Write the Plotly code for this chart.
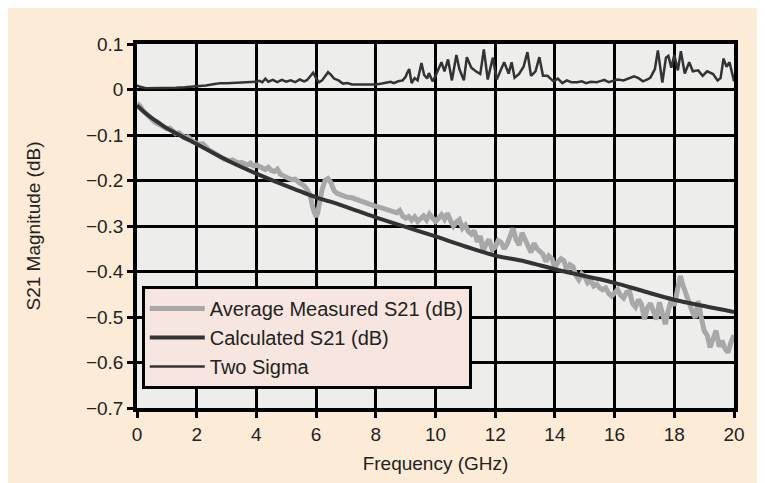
import plotly.graph_objects as go

# ---- data ----
calc_f = [0, 0.25, 0.5, 0.75, 1, 1.5, 2, 3, 4, 5, 6, 6.45, 7, 8, 9, 10, 11, 12, 13, 14, 15, 16, 17, 18, 19, 20]
calc_s21 = [-0.035, -0.05, -0.063, -0.074, -0.085, -0.103, -0.12, -0.155, -0.185, -0.212, -0.237, -0.246,
            -0.258, -0.281, -0.302, -0.323, -0.345, -0.365, -0.378, -0.395, -0.41, -0.425, -0.444,
            -0.462, -0.476, -0.489]

meas_f = [0.0, 0.1, 0.2, 0.3, 0.4, 0.5, 0.6, 0.7, 0.8, 0.9, 1.0, 1.1, 1.2, 1.3, 1.4, 1.5, 1.6, 1.7, 1.8, 1.9,
          2.0, 2.1, 2.2, 2.3, 2.4, 2.5, 2.6, 2.7, 2.8, 2.9, 3.0, 3.1, 3.2, 3.3, 3.4, 3.5, 3.6, 3.7, 3.8, 3.9,
          4.0, 4.1, 4.2, 4.3, 4.4, 4.5, 4.6, 4.7, 4.8, 4.9, 5.0, 5.1, 5.2, 5.3, 5.4, 5.5, 5.6, 5.7, 5.8, 5.9,
          5.95, 6.0, 6.05, 6.1, 6.2, 6.3, 6.4, 6.5, 6.6, 6.7, 6.8, 6.9, 7.0, 7.2, 7.4, 7.6, 7.8, 8.0, 8.2,
          8.4, 8.6, 8.7, 8.8, 8.9, 9.0, 9.1, 9.2, 9.3, 9.4, 9.5, 9.6, 9.7, 9.8, 9.9, 10.0, 10.1, 10.2, 10.3,
          10.4, 10.5, 10.6, 10.7, 10.8, 10.9, 11.0, 11.1, 11.2, 11.3, 11.4, 11.5, 11.6, 11.7, 11.8, 11.9,
          12.0, 12.1, 12.2, 12.3, 12.4, 12.5, 12.6, 12.7, 12.8, 12.9, 13.0, 13.1, 13.2, 13.3, 13.4, 13.5,
          13.6, 13.7, 13.8, 13.9, 14.0, 14.1, 14.2, 14.3, 14.4, 14.5, 14.6, 14.7, 14.8, 14.9, 15.0, 15.1,
          15.2, 15.3, 15.4, 15.5, 15.6, 15.7, 15.8, 15.9, 16.0, 16.1, 16.2, 16.3, 16.4, 16.5, 16.6, 16.7,
          16.8, 16.9, 17.0, 17.1, 17.2, 17.3, 17.4, 17.5, 17.6, 17.7, 17.8, 17.9, 18.0, 18.1, 18.2, 18.3,
          18.4, 18.5, 18.6, 18.7, 18.8, 18.9, 19.0, 19.1, 19.2, 19.3, 19.4, 19.5, 19.6, 19.7, 19.8, 19.9, 20.0]
meas_s21 = [-0.030, -0.036, -0.046, -0.054, -0.060, -0.066, -0.072, -0.075, -0.080, -0.084, -0.086, -0.085,
            -0.092, -0.097, -0.095, -0.101, -0.106, -0.104, -0.111, -0.115, -0.118, -0.120, -0.119, -0.127,
            -0.132, -0.136, -0.139, -0.145, -0.148, -0.152, -0.155, -0.157, -0.155, -0.160, -0.162, -0.160,
            -0.163, -0.166, -0.162, -0.168, -0.166, -0.170, -0.172, -0.176, -0.171, -0.178, -0.180, -0.175,
            -0.186, -0.190, -0.192, -0.196, -0.198, -0.197, -0.203, -0.207, -0.212, -0.220, -0.232, -0.262,
            -0.277, -0.280, -0.272, -0.252, -0.220, -0.200, -0.196, -0.205, -0.222, -0.228, -0.231, -0.234,
            -0.236, -0.238, -0.243, -0.247, -0.252, -0.257, -0.260, -0.264, -0.268, -0.271, -0.266, -0.278,
            -0.283, -0.279, -0.287, -0.280, -0.290, -0.282, -0.278, -0.287, -0.274, -0.282, -0.290, -0.283,
            -0.275, -0.285, -0.272, -0.288, -0.300, -0.291, -0.286, -0.305, -0.298, -0.312, -0.318, -0.310,
            -0.335, -0.322, -0.356, -0.338, -0.330, -0.352, -0.346, -0.332, -0.336, -0.350, -0.340, -0.322,
            -0.305, -0.330, -0.342, -0.315, -0.332, -0.344, -0.358, -0.338, -0.350, -0.355, -0.362, -0.378,
            -0.366, -0.372, -0.392, -0.380, -0.372, -0.376, -0.398, -0.385, -0.389, -0.408, -0.418, -0.405,
            -0.412, -0.425, -0.420, -0.432, -0.428, -0.436, -0.440, -0.436, -0.448, -0.454, -0.445, -0.440,
            -0.452, -0.458, -0.446, -0.444, -0.470, -0.478, -0.462, -0.472, -0.505, -0.480, -0.470, -0.492,
            -0.505, -0.468, -0.492, -0.516, -0.485, -0.462, -0.475, -0.440, -0.410, -0.432, -0.452, -0.468,
            -0.488, -0.502, -0.465, -0.500, -0.530, -0.540, -0.567, -0.548, -0.530, -0.565, -0.552, -0.570,
            -0.578, -0.555, -0.540]

sig_f = [0.0, 0.1, 0.3, 0.6, 1.0, 1.3, 1.6, 2.0, 2.3, 2.6, 2.8, 3.0, 3.3, 3.6, 3.8, 4.0, 4.1, 4.2, 4.3, 4.4,
         4.55, 4.7, 4.85, 5.0, 5.15, 5.3, 5.45, 5.6, 5.7, 5.8, 5.9, 6.0, 6.1, 6.2, 6.3, 6.4, 6.5, 6.6, 6.75,
         6.9, 7.05, 7.2, 7.4, 7.6, 7.8, 8.0, 8.2, 8.4, 8.5, 8.6, 8.75, 8.9, 9.0, 9.05, 9.12, 9.2, 9.3, 9.4,
         9.53, 9.62, 9.72, 9.78, 9.9, 10.0, 10.1, 10.2, 10.3, 10.42, 10.55, 10.7, 10.8, 10.95, 11.05, 11.2,
         11.35, 11.5, 11.62, 11.75, 11.92, 12.05, 12.3, 12.45, 12.55, 12.65, 12.8, 12.95, 13.08, 13.2, 13.35,
         13.48, 13.6, 13.75, 13.95, 14.1, 14.25, 14.4, 14.55, 14.75, 14.9, 15.05, 15.2, 15.4, 15.55, 15.65,
         15.8, 15.95, 16.1, 16.3, 16.45, 16.65, 16.8, 16.95, 17.1, 17.2, 17.35, 17.45, 17.6, 17.72, 17.8,
         17.9, 18.0, 18.12, 18.22, 18.35, 18.5, 18.62, 18.8, 18.95, 19.1, 19.3, 19.45, 19.55, 19.65, 19.75,
         19.85, 20.0]
sig_val = [0.009, 0.006, 0.003, 0.003, 0.003, 0.004, 0.005, 0.007, 0.009, 0.012, 0.014, 0.014, 0.015, 0.016,
           0.017, 0.017, 0.019, 0.016, 0.024, 0.017, 0.021, 0.016, 0.021, 0.017, 0.020, 0.016, 0.022, 0.018,
           0.021, 0.028, 0.037, 0.025, 0.016, 0.020, 0.030, 0.038, 0.032, 0.024, 0.020, 0.013, 0.014, 0.011,
           0.011, 0.011, 0.011, 0.011, 0.013, 0.015, 0.017, 0.014, 0.018, 0.020, 0.028, 0.036, 0.045, 0.014,
           0.025, 0.020, 0.058, 0.032, 0.024, 0.036, 0.018, 0.030, 0.046, 0.060, 0.040, 0.066, 0.020, 0.076,
           0.045, 0.020, 0.071, 0.048, 0.040, 0.034, 0.088, 0.022, 0.070, 0.022, 0.060, 0.035, 0.060, 0.026,
           0.034, 0.050, 0.082, 0.030, 0.040, 0.071, 0.030, 0.030, 0.018, 0.024, 0.014, 0.020, 0.016, 0.016,
           0.018, 0.014, 0.017, 0.016, 0.019, 0.021, 0.016, 0.019, 0.022, 0.020, 0.024, 0.029, 0.025, 0.018,
           0.022, 0.026, 0.045, 0.086, 0.015, 0.070, 0.074, 0.048, 0.076, 0.042, 0.084, 0.035, 0.060, 0.040,
           0.042, 0.030, 0.040, 0.034, 0.020, 0.025, 0.068, 0.050, 0.060, 0.018]

x_ticks = [0, 2, 4, 6, 8, 10, 12, 14, 16, 18, 20]
y_ticks = [0.1, 0, -0.1, -0.2, -0.3, -0.4, -0.5, -0.6, -0.7]
y_labels = ["0.1", "0", "\u22120.1", "\u22120.2", "\u22120.3", "\u22120.4", "\u22120.5", "\u22120.6", "\u22120.7"]

FONT = "Liberation Sans, Arial, sans-serif"
FS = 19

fig = go.Figure()
fig.add_trace(go.Scatter(x=meas_f, y=meas_s21, mode="lines", name="Average Measured S21 (dB)",
                         line=dict(color="#A8A8A8", width=5), legendgroup="a"))
fig.add_trace(go.Scatter(x=calc_f, y=calc_s21, mode="lines", name="Calculated S21 (dB)",
                         line=dict(color="#333333", width=4, shape="spline"), legendgroup="b"))
fig.add_trace(go.Scatter(x=sig_f, y=sig_val, mode="lines", name="Two Sigma",
                         line=dict(color="#333333", width=2.5), legendgroup="c"))

fig.update_layout(
    width=765, height=483,
    paper_bgcolor="#FCEBD7", plot_bgcolor="#EDEEEC",
    margin=dict(l=129, r=39, t=36, b=83),
    font=dict(family=FONT, size=FS, color="#222222"),
    showlegend=True,
    legend=dict(x=0.008, y=0.335, xanchor="left", yanchor="top",
                bgcolor="#F7E6DF", bordercolor="#000000", borderwidth=3,
                font=dict(family=FONT, size=20, color="#222222"),
                itemwidth=55, traceorder="grouped", tracegroupgap=0),
    xaxis=dict(range=[0, 20], tickvals=x_ticks, showgrid=True, gridcolor="#000000", gridwidth=3,
               showline=True, linecolor="#000000", linewidth=3.5, mirror=True,
               ticks="outside", ticklen=6, tickwidth=3, tickcolor="#000000", zeroline=False,
               title=dict(text="Frequency (GHz)", standoff=14, font=dict(size=FS))),
    yaxis=dict(range=[-0.7, 0.1], tickvals=y_ticks, ticktext=y_labels, showgrid=True,
               gridcolor="#000000", gridwidth=3,
               showline=True, linecolor="#000000", linewidth=3.5, mirror=True,
               ticks="outside", ticklen=6, tickwidth=3, tickcolor="#000000", zeroline=False,
               title=dict(text="S21 Magnitude (dB)", standoff=41, font=dict(size=FS))),
)

fig.write_html("out.html")
